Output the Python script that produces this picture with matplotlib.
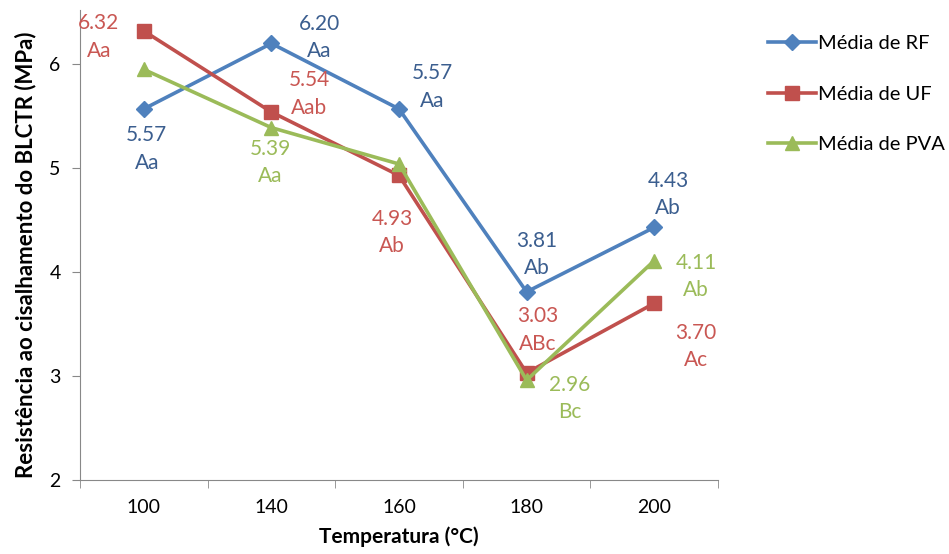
import numpy as np
import matplotlib.pyplot as plt

plt.rcParams['font.family'] = ['Lato', 'DejaVu Sans']

temps = ['100', '140', '160', '180', '200']
rf = [5.57, 6.20, 5.57, 3.81, 4.43]
uf = [6.32, 5.54, 4.93, 3.03, 3.70]
pva = [5.95, 5.39, 5.04, 2.96, 4.11]

# letters from the statistical test
rf_let = ['Aa', 'Aa', 'Aa', 'Ab', 'Ab']
uf_let = ['Aa', 'Aab', 'Ab', 'ABc', 'Ac']
pva_let = [None, 'Aa', None, 'Bc', 'Ab']

# label offsets in pixels (dx, dy)
rf_off = [(3, -40), (48, 6), (33, 22), (10, 37), (14, 33)]
uf_off = [(-45, -6), (38, 18), (-7, -57), (11, 43), (42, -43)]
pva_off = [None, (-1, -35), None, (43, -18), (42, -16)]

c_rf, c_uf, c_pva = '#4F81BD', '#C0504D', '#9BBB59'
t_rf, t_uf, t_pva = '#3B5E8F', '#C95753', '#9BBB59'

fig = plt.figure(figsize=(9.49, 5.54), dpi=100)
ax = fig.add_axes([0.0843, 0.1336, 0.6723, 0.848])

x = np.arange(len(temps))
ax.plot(x, rf, '-D', color=c_rf, lw=2.6, ms=8, label='Média de RF')
ax.plot(x, uf, '-s', color=c_uf, lw=2.6, ms=10, label='Média de UF')
ax.plot(x, pva, '-^', color=c_pva, lw=2.6, ms=10, label='Média de PVA')

for vals, lets, offs, col in [(rf, rf_let, rf_off, t_rf),
                              (uf, uf_let, uf_off, t_uf),
                              (pva, pva_let, pva_off, t_pva)]:
    for i, v in enumerate(vals):
        if lets[i] is None:
            continue
        ax.annotate('%.2f\n%s' % (v, lets[i]), (x[i], v), xytext=offs[i],
                    textcoords='offset pixels', ha='center', va='center',
                    color=col, fontsize=15, linespacing=1.45)

ax.set_xlim(-0.5, 4.5)
ax.set_ylim(2, 6.52)
ax.set_yticks([2, 3, 4, 5, 6])
ax.set_xticks(x)
ax.set_xticklabels(temps)
ax.set_xticks(np.arange(-0.5, 5, 1), minor=True)
ax.tick_params(axis='x', which='major', length=0, pad=14, labelsize=14)
ax.tick_params(axis='x', which='minor', length=6, color='#888888')
ax.tick_params(axis='y', length=6, color='#888888', labelsize=14, pad=8)

for s in ['top', 'right']:
    ax.spines[s].set_visible(False)
for s in ['left', 'bottom']:
    ax.spines[s].set_color('#888888')

ax.set_xlabel('Temperatura (°C)', fontsize=15, fontweight='bold', labelpad=7)
ax.set_ylabel('Resistência ao cisalhamento do BLCTR (MPa)', fontsize=16,
              fontweight='bold')
ax.yaxis.set_label_coords(-0.068, 0.48)

ax.legend(loc='upper left', bbox_to_anchor=(1.05, 0.985), frameon=False,
          fontsize=14.5, labelspacing=1.65, handlelength=2.4, handletextpad=0.1)

fig.savefig('out.png', dpi=100)
